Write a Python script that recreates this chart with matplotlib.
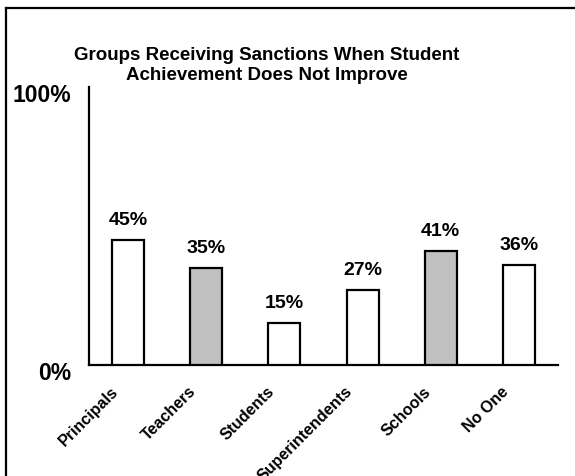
import numpy as np
import matplotlib.pyplot as plt
from matplotlib.lines import Line2D
from matplotlib.transforms import ScaledTranslation

# chart data
groups = ['Principals', 'Teachers', 'Students', 'Superintendents', 'Schools', 'No One']
percents = [45, 35, 15, 27, 41, 36]
bar_colors = ['white', '#c0c0c0', 'white', 'white', '#c0c0c0', 'white']
title = 'Groups Receiving Sanctions When Student\nAchievement Does Not Improve'

plt.rcParams['font.family'] = ['Liberation Sans', 'DejaVu Sans']
plt.rcParams['font.weight'] = 'bold'

fig = plt.figure(figsize=(5.75, 4.77), dpi=100)
ax = fig.add_axes([89 / 575, 1 - 366 / 477, 469 / 575, 278 / 477])

x = np.arange(len(groups))
ax.bar(x, percents, width=0.41, color=bar_colors, edgecolor='black', linewidth=1.6, zorder=3)

# value labels above each bar
for xi, v in zip(x, percents):
    ax.annotate(str(v) + '%', (xi, v), xytext=(0, 11.5), textcoords='offset points',
                ha='center', va='baseline', fontsize=14, fontweight='bold')

ax.set_xlim(-0.5, len(groups) - 0.5)
ax.set_ylim(0, 100)

# only left and bottom axis lines
for side in ['top', 'right']:
    ax.spines[side].set_visible(False)
for side in ['left', 'bottom']:
    ax.spines[side].set_linewidth(1.6)

ax.set_yticks([0, 100])
ax.set_yticklabels(['0%', '100%'], fontsize=16.5, fontweight='bold')
ax.tick_params(axis='y', length=0, pad=13)
for lab in ax.get_yticklabels():
    lab.set_transform(lab.get_transform() + ScaledTranslation(0, -5 / 100, fig.dpi_scale_trans))

ax.set_xticks(x)
ax.set_xticklabels(groups, rotation=45, ha='right', fontsize=11.5, fontweight='bold')
ax.tick_params(axis='x', length=0, pad=13)
for lab in ax.get_xticklabels():
    lab.set_transform(lab.get_transform() + ScaledTranslation(-7 / 100, 0, fig.dpi_scale_trans))

# title sits left of the axes centre (baseline of the last line)
fig.text(266.5 / 575, 1 - 80 / 477, title, ha='center', va='baseline',
         fontsize=13.5, fontweight='bold', linespacing=1.2)

# outer frame, cut off at the right and bottom
fig.add_artist(Line2D([5.5 / 575, 1], [1 - 9 / 477, 1 - 9 / 477], color='black', linewidth=1.6))
fig.add_artist(Line2D([5.5 / 575, 5.5 / 575], [0, 1 - 9 / 477], color='black', linewidth=1.6))

fig.savefig('out.png', dpi=100)
